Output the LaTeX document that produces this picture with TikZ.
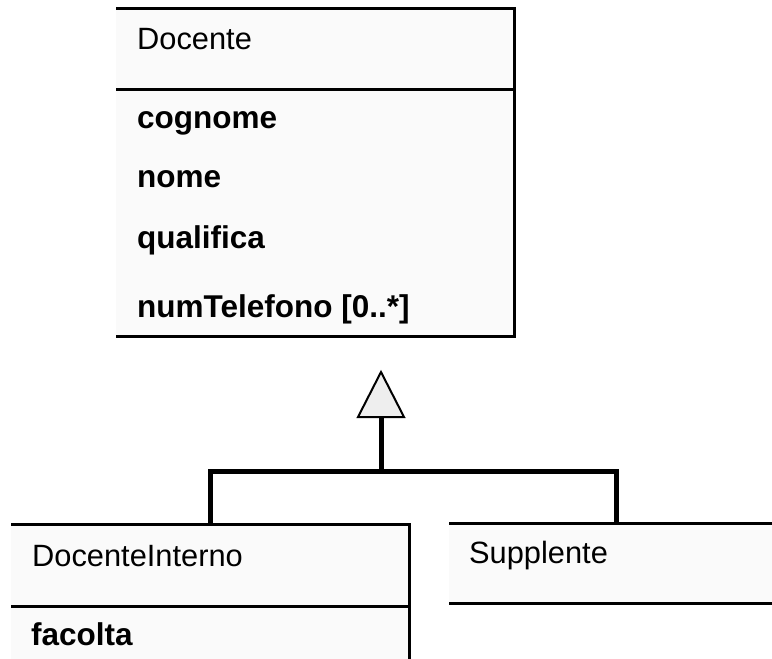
\documentclass[tikz,border=0pt]{standalone}
\usepackage{fontspec}
\setmainfont{Liberation Sans}
\definecolor{boxfill}{HTML}{FAFAFA}
\definecolor{trifill}{HTML}{EEEEEE}
\tikzset{
  classbox/.style={rectangle, fill=boxfill, draw=none, inner sep=0pt, anchor=north west},
  border/.style={line width=3pt, black, line join=miter},
  conn/.style={line width=5pt, black, line join=miter},
  nametext/.style={anchor=base west, inner sep=0pt, font=\fontsize{30.8}{36}\selectfont},
  attrtext/.style={anchor=base west, inner sep=0pt, font=\fontsize{31.5}{36}\selectfont\bfseries},
}
\begin{document}
\begin{tikzpicture}[x=1pt, y=-1pt]
\clip (0,0) rectangle (772,659);
\fill[white] (0,0) rectangle (772,659);
% Docente
\node[classbox, minimum width=398pt, minimum height=328pt] (docente) at (116,8) {};
\draw[border] (docente.north west) -- (docente.north east) -- (docente.south east) -- (docente.south west);
\draw[border] (116,89) -- (514,89);
\node[nametext] (tdoc) at (137,49) {Docente};
\node[attrtext] (a1) at (137,128) {cognome};
\node[attrtext] (a2) at (137,187) {nome};
\node[attrtext] (a3) at (137,248) {qualifica};
\node[attrtext] (a4) at (137,317) {numTelefono [0..*]};
% DocenteInterno
\node[classbox, minimum width=398pt, minimum height=160pt] (interno) at (11,524) {};
\draw[border] (interno.north west) -- (interno.north east) -- (interno.south east);
\draw[border] (11,606) -- (409,606);
\node[nametext] (tint) at (32,566) {DocenteInterno};
\node[attrtext] (b1) at (31,645) {facolta};
% Supplente
\node[classbox, minimum width=334pt, minimum height=80pt] (suppl) at (449,523) {};
\draw[border] (suppl.north west) -- (suppl.north east);
\draw[border] (suppl.south west) -- (suppl.south east);
\node[nametext] (tsup) at (469,563) {Supplente};
% generalization
\coordinate (apex) at (381,372);
\coordinate (tri) at (381,417);
\coordinate (j) at (381,471);
\draw[conn] (tri) -- (j);
\draw[conn] (interno.north) |- (j) -| (suppl.north);
\draw[line width=2pt, fill=trifill, line join=miter] (apex) -- (404,417) -- (358,417) -- cycle;
\end{tikzpicture}
\end{document}
